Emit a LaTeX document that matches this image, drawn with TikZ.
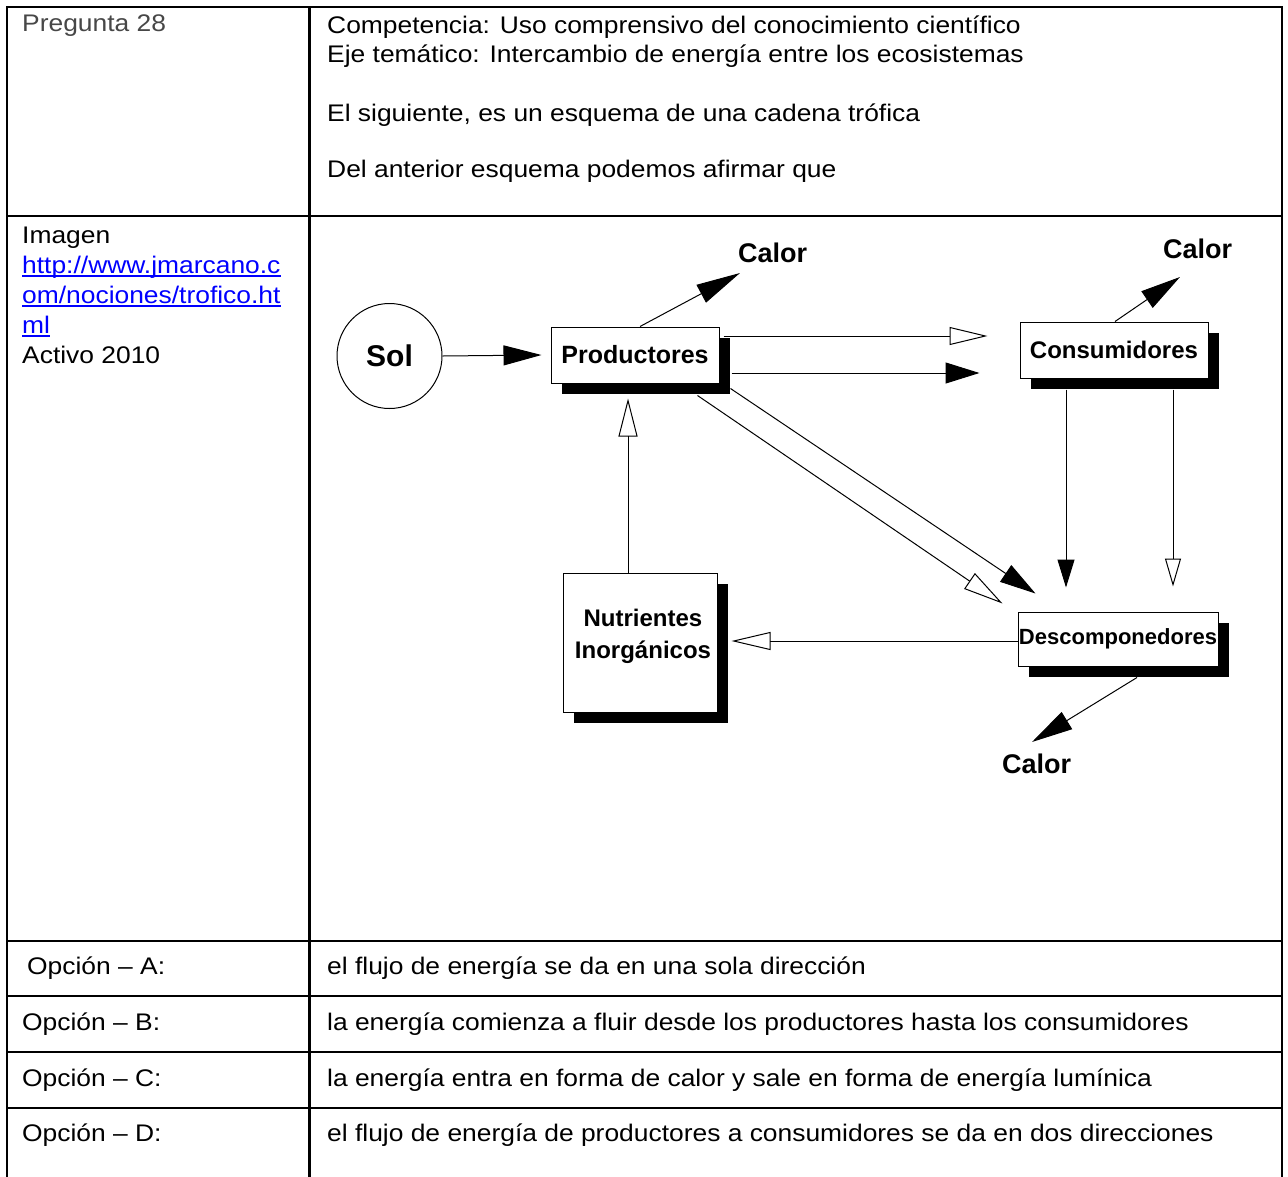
\documentclass[tikz,border=0pt]{standalone}
\usepackage{fontspec}
\setmainfont{Liberation Sans}
\newfontfamily\tabfont[FakeStretch=1.1]{Liberation Sans}
\usetikzlibrary{arrows.meta,shadows}
\begin{document}
\begin{tikzpicture}[x=1pt,y=-1pt,
  txt/.style={inner sep=0pt, anchor=base west, font=\tabfont\fontsize{24}{30}\selectfont},
  grid/.style={line width=2.2pt},
  lbl/.style={inner sep=0pt, font=\bfseries\fontsize{24}{32}\selectfont},
  calor/.style={inner sep=0pt, anchor=base west, font=\bfseries\fontsize{27}{30}\selectfont},
  box/.style={draw, line width=1pt, fill=white, inner sep=0pt,
    drop shadow={shadow xshift=11pt, shadow yshift=-11pt, fill=black, opacity=1}},
  conn/.style={line width=1pt},
  ohead/.style={conn, -{Triangle[open,length=38pt,width=18pt]}},
  url/.style={blue, line width=1.3pt}
]
\useasboundingbox (0,0) rectangle (1288,1176);
\fill[white] (0,0) rectangle (1288,1176);

% table grid
\draw[grid] (7,1177) -- (7,7) -- (1282,7) -- (1282,1177);
\draw[grid] (309.5,7) -- (309.5,1177);
\foreach \yy in {216,941,996,1052,1108} \draw[grid] (7,\yy) -- (1282,\yy);

% header row
\node[txt, text=black!72] (q) at (22,31) {Pregunta 28};
\node[txt] (h1) at (327,33) {Competencia: Uso comprensivo del conocimiento científico};
\node[txt] (h2) at (327,62) {Eje temático: Intercambio de energía entre los ecosistemas};
\node[txt] (h3) at (327,121) {El siguiente, es un esquema de una cadena trófica};
\node[txt] (h4) at (327,177) {Del anterior esquema podemos afirmar que};

% left column of image row
\node[txt] (img) at (22,243) {Imagen};
\node[txt, text=blue] (u1) at (22,273) {http://www.jmarcano.c};
\node[txt, text=blue] (u2) at (22,303) {om/nociones/trofico.ht};
\node[txt, text=blue] (u3) at (22,333) {ml};
\node[txt] (act) at (22,363) {Activo 2010};
\draw[url] ([yshift=-3pt]u1.base west) -- ([yshift=-3pt]u1.base east);
\draw[url] ([yshift=-3pt]u2.base west) -- ([yshift=-3pt]u2.base east);
\draw[url] ([yshift=-3pt]u3.base west) -- ([yshift=-3pt]u3.base east);

% options
\node[txt] (oa) at (27,974) {Opción – A:};
\node[txt] (ta) at (327,974) {el flujo de energía se da en una sola dirección};
\node[txt] (ob) at (22,1030) {Opción – B:};
\node[txt] (tb) at (327,1030) {la energía comienza a fluir desde los productores hasta los consumidores};
\node[txt] (oc) at (22,1086) {Opción – C:};
\node[txt] (tc) at (327,1086) {la energía entra en forma de calor y sale en forma de energía lumínica};
\node[txt] (od) at (22,1141) {Opción – D:};
\node[txt] (td) at (327,1141) {el flujo de energía de productores a consumidores se da en dos direcciones};

% diagram nodes
\node[draw, circle, line width=1pt, minimum size=105pt, inner sep=0pt,
      font=\bfseries\fontsize{30}{34}\selectfont] (sol) at (389.5,356) {Sol};
\node[box, minimum width=168pt, minimum height=56pt, font=\bfseries\fontsize{25}{28}\selectfont] (prod) at (635,355) {Productores};
\node[box, minimum width=188pt, minimum height=56pt, font=\bfseries\fontsize{24}{28}\selectfont] (cons) at (1114,350) {Consumidores};
\node[box, minimum width=200pt, minimum height=54pt, font=\bfseries\fontsize{22}{26}\selectfont] (desc) at (1118,639) {Descomponedores};
\node[box, minimum width=154pt, minimum height=139pt] (nut) at (640,642.5) {};
\node[lbl, align=center] (nuttxt) at (643,636) {Nutrientes\\Inorgánicos};

\node[calor] (c1) at (738,262) {Calor};
\node[calor] (c2) at (1163,258) {Calor};
\node[calor] (c3) at (1002,773) {Calor};

% connectors
\draw[conn, -{Triangle[length=38pt,width=20pt]}] (sol.east) -- ([shift={(-9,0)}]prod.west);
\draw[conn, -{Triangle[length=44pt,width=20pt]}] ([shift={(5,0)}]prod.north) -- ([shift={(2,11)}]c1.base west);
\draw[ohead] ([shift={(4,-19)}]prod.east) -- ([shift={(-32,-14)}]cons.west);
\draw[conn, -{Triangle[length=34pt,width=21pt]}] ([shift={(12,18)}]prod.east) -- ([shift={(-40,23)}]cons.west);
\draw[conn, -{Triangle[length=40pt,width=20pt]}] ([shift={(1,0)}]cons.north) -- ([shift={(17,19)}]c2.base west);
\draw[conn, -{Triangle[length=28pt,width=17pt]}] ([shift={(-48,11)}]cons.south) -- ([shift={(-52,-24)}]desc.north);
\draw[conn, -{Triangle[open,length=28pt,width=16pt]}] ([shift={(59,11)}]cons.south) -- ([shift={(55,-25)}]desc.north);
\draw[conn, -{Triangle[length=36pt,width=20pt]}] ([shift={(11,5)}]prod.south east) -- ([shift={(18,-18)}]desc.north west);
\draw[conn, -{Triangle[open,length=40pt,width=19pt]}] ([shift={(-22,12)}]prod.south east) -- ([shift={(-15,-8)}]desc.north west);
\draw[conn, -{Triangle[open,length=38pt,width=19pt]}] ([shift={(-12,0)}]nut.north) -- ([shift={(-7,15)}]prod.south);
\draw[conn, -{Triangle[open,length=39pt,width=18pt]}] ([shift={(0,2)}]desc.west) -- ([shift={(14,-1.5)}]nut.east);
\draw[conn, -{Triangle[length=41pt,width=20pt]}] ([shift={(19,11)}]desc.south) -- ([shift={(30,-31)}]c3.base west);
\end{tikzpicture}
\end{document}
